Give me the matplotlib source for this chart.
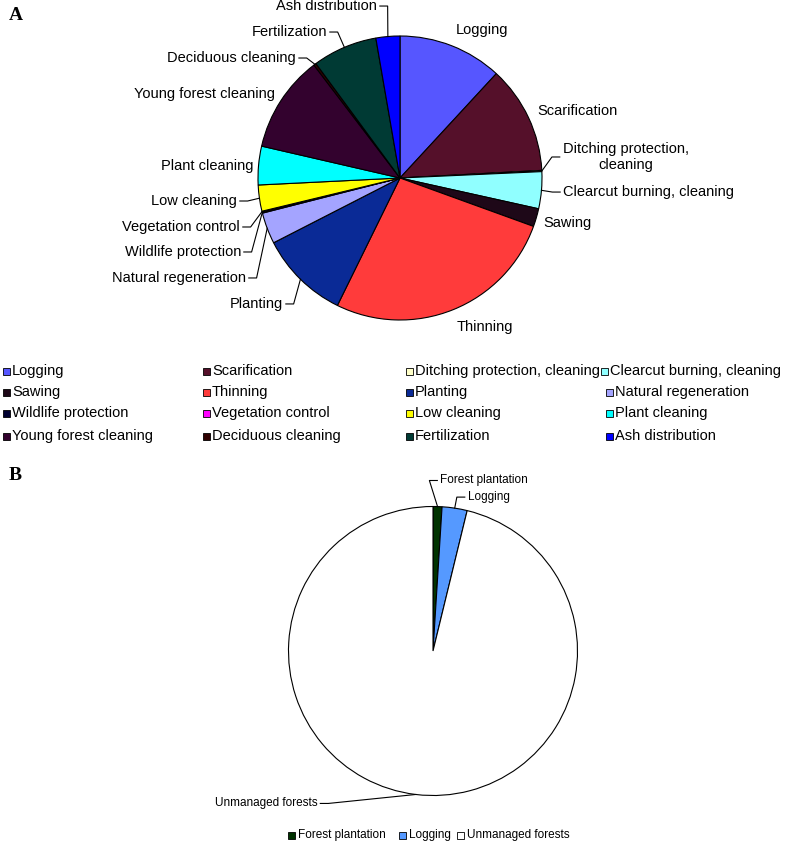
import numpy as np
import matplotlib.pyplot as plt
from matplotlib.patches import Rectangle

plt.rcParams['font.family'] = ['Liberation Sans', 'DejaVu Sans']

# Panel A: cost shares (read as slice angles, clockwise from 12 o'clock)
activities = ["Logging", "Scarification", "Ditching protection, cleaning",
              "Clearcut burning, cleaning", "Sawing", "Thinning", "Planting",
              "Natural regeneration", "Wildlife protection", "Vegetation control",
              "Low cleaning", "Plant cleaning", "Young forest cleaning",
              "Deciduous cleaning", "Fertilization", "Ash distribution"]
shares_a = [42.7, 44.2, 0.5, 15.1, 7.4, 96.2, 36.7, 12.8, 0.5, 0.3,
            10.7, 15.8, 39.7, 1.0, 26.5, 9.8]
colors_a = ["#5656FF", "#55102A", "#FFFFC8", "#90FFFF", "#1E0818", "#FF3B3B",
            "#0A2A96", "#A4A4FF", "#000030", "#FF00FF", "#FFFF00", "#00FFFF",
            "#33022E", "#300000", "#003A34", "#0000FF"]

# Panel B
classes_b = ["Forest plantation", "Logging", "Unmanaged forests"]
shares_b = [1.0, 2.8, 96.2]
colors_b = ["#003300", "#5599FF", "#FFFFFF"]

W, H = 787, 842
fig = plt.figure(figsize=(W / 100, H / 100), dpi=100)


def pie_axes(cx, cy, r):
    return fig.add_axes([(cx - r) / W, (H - cy - r) / H, 2 * r / W, 2 * r / H])


def draw_labels(ax, wedges, labels, fs):
    # labels: (text, x, y, ha, leader) in pie radius units
    for w, (txt, x, y, ha, leader) in zip(wedges, labels):
        ax.text(x, y, txt, ha=ha, va="center", fontsize=fs,
                multialignment="center", clip_on=False)
        if leader:
            mid = np.deg2rad((w.theta1 + w.theta2) / 2)
            ex, ey = np.cos(mid), np.sin(mid)
            s = 1 if ha == "left" else -1
            ax_ = x - s * 0.02
            if ha == "center":
                ax_ = leader[0]
                s = 1
            ax.plot([ex, ax_ - s * 0.055, ax_], [ey, y, y], color="black",
                    lw=0.8, clip_on=False)


# ---- Panel A ----
axA = pie_axes(400, 178, 142)
wA, _ = axA.pie(shares_a, colors=colors_a, startangle=90, counterclock=False,
                wedgeprops=dict(edgecolor="black", linewidth=0.8))
axA.set_xlim(-1, 1)
axA.set_ylim(-1, 1)
axA.axis("off")

labels_a = [
    ("Logging", 0.577, 1.042, "center", None),
    ("Scarification", 0.965, 0.472, "left", None),
    ("Ditching protection,\ncleaning", 1.592, 0.148, "center", (1.125,)),
    ("Clearcut burning, cleaning", 1.148, -0.099, "left", True),
    ("Sawing", 1.176, -0.317, "center", None),
    ("Thinning", 0.599, -1.049, "center", None),
    ("Planting", -0.824, -0.887, "right", True),
    ("Natural regeneration", -1.085, -0.704, "right", True),
    ("Wildlife protection", -1.120, -0.521, "right", True),
    ("Vegetation control", -1.127, -0.345, "right", True),
    ("Low cleaning", -1.148, -0.162, "right", True),
    ("Plant cleaning", -1.359, 0.085, "center", None),
    ("Young forest cleaning", -1.380, 0.592, "center", None),
    ("Deciduous cleaning", -0.732, 0.845, "right", True),
    ("Fertilization", -0.514, 1.028, "right", True),
    ("Ash distribution", -0.162, 1.211, "right", True),
]
draw_labels(axA, wA, labels_a, 10.5)

# ---- Panel B ----
axB = pie_axes(433, 651, 144.5)
wB, _ = axB.pie(shares_b, colors=colors_b, startangle=90, counterclock=False,
                wedgeprops=dict(edgecolor="black", linewidth=0.8))
axB.set_xlim(-1, 1)
axB.set_ylim(-1, 1)
axB.axis("off")

labels_b = [
    ("Forest plantation", 0.05, 1.18, "left", True),
    ("Logging", 0.24, 1.065, "left", True),
    ("Unmanaged forests", -0.80, -1.055, "right", True),
]
draw_labels(axB, wB, labels_b, 8.5)

# ---- overlay for panel letters and legends (pixel coordinates) ----
ov = fig.add_axes([0, 0, 1, 1])
ov.set_xlim(0, W)
ov.set_ylim(H, 0)
ov.axis("off")
ov.patch.set_alpha(0)

ov.text(9, 15, "A", fontsize=14, fontweight="bold", family="Liberation Serif",
        va="center")
ov.text(9, 476, "B", fontsize=14, fontweight="bold", family="Liberation Serif",
        va="center")

row_y = [371, 392, 413, 436]
col_x = [[3, 203, 406, 601], [3, 203, 406, 606], [3, 203, 406, 606], [3, 203, 406, 606]]
for i, (name, c) in enumerate(zip(activities, colors_a)):
    r, k = divmod(i, 4)
    x, y = col_x[r][k], row_y[r]
    ov.add_patch(Rectangle((x, y - 3.5), 7, 7, facecolor=c, edgecolor="black", lw=0.6))
    ov.text(x + 9, y, name, fontsize=10.5, va="center")

leg_b_x = [288, 399, 457]
for name, c, x in zip(classes_b, colors_b, leg_b_x):
    ov.add_patch(Rectangle((x, 835 - 3.5), 7, 7, facecolor=c, edgecolor="black", lw=0.6))
    ov.text(x + 10, 835, name, fontsize=8.5, va="center")

fig.savefig("out.png", dpi=100)
